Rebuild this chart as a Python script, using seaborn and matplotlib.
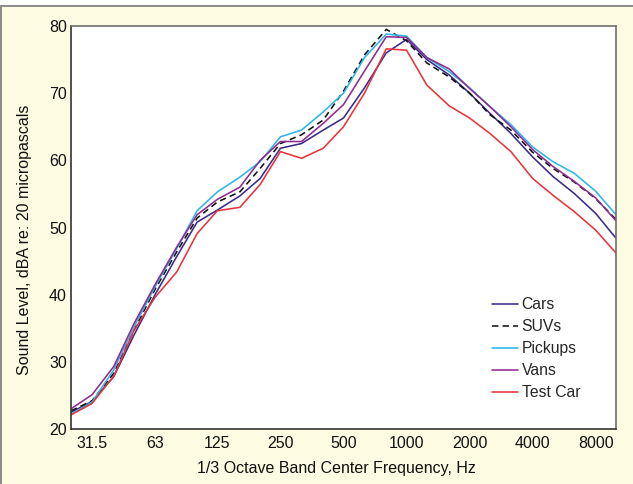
import matplotlib
matplotlib.use("Agg")
import matplotlib.pyplot as plt
import seaborn as sns
import pandas as pd
from matplotlib.patches import Rectangle
from matplotlib.lines import Line2D

# 1/3 octave band centre frequencies (Hz)
freqs = [25, 31.5, 40, 50, 63, 80, 100, 125, 160, 200, 250, 315, 400, 500,
         630, 800, 1000, 1250, 1600, 2000, 2500, 3150, 4000, 5000, 6300, 8000, 10000]

cars = [22.5, 24.1, 27.8, 34.0, 40.0, 45.7, 50.8, 52.6, 54.7, 57.3, 61.8, 62.5, 64.5, 66.3,
        70.8, 76.0, 78.0, 75.0, 72.7, 70.0, 67.0, 64.0, 60.5, 57.6, 55.1, 52.1, 48.4]
suvs = [22.7, 24.2, 28.3, 34.7, 40.8, 46.4, 51.4, 53.8, 55.3, 58.8, 62.5, 63.8, 66.0, 70.3,
        75.7, 79.5, 77.8, 74.5, 72.4, 70.0, 66.8, 64.5, 61.2, 58.8, 56.8, 54.3, 51.2]
pickups = [22.2, 24.0, 28.8, 35.2, 41.2, 46.9, 52.5, 55.3, 57.5, 59.8, 63.5, 64.5, 67.2, 70.0,
           75.3, 78.8, 78.5, 75.3, 73.2, 70.8, 68.0, 65.3, 62.0, 59.8, 58.1, 55.4, 51.9]
vans = [23.0, 25.1, 29.3, 35.7, 41.5, 47.1, 51.9, 54.2, 56.0, 60.0, 62.8, 62.8, 65.5, 68.3,
        73.3, 78.4, 78.3, 75.3, 73.6, 70.7, 68.0, 65.0, 61.6, 59.1, 56.9, 54.4, 51.0]
test_car = [22.1, 23.8, 27.9, 34.7, 39.6, 43.4, 49.1, 52.5, 53.0, 56.4, 61.3, 60.3, 61.8, 65.0,
            70.0, 76.6, 76.4, 71.2, 68.1, 66.3, 64.0, 61.3, 57.3, 54.8, 52.4, 49.6, 46.2]

series_names = ["Cars", "SUVs", "Pickups", "Vans", "Test Car"]
series_values = [cars, suvs, pickups, vans, test_car]
series_colors = ["#3B2A8A", "#111111", "#2DB6E8", "#8E2B8F", "#E8343A"]
series_styles = ["-", (0, (4, 2.6)), "-", "-", "-"]

x_ticks = [31.5, 63, 125, 250, 500, 1000, 2000, 4000, 8000]
x_tick_labels = ["31.5", "63", "125", "250", "500", "1000", "2000", "4000", "8000"]
y_ticks = [20, 30, 40, 50, 60, 70, 80]

df = pd.DataFrame({"freq": freqs})
for n, v in zip(series_names, series_values):
    df[n] = v

sns.set_theme(style="white")
plt.rcParams["font.family"] = ["Liberation Sans", "DejaVu Sans"]

bg = "#FDFBE2"
fig = plt.figure(figsize=(6.33, 4.84), dpi=100, facecolor="white")
fig.patches.append(Rectangle((1, -10), 700, 484 - 6 + 10, transform=None,
                             facecolor=bg, edgecolor="#8a8a8a", linewidth=1.4,
                             zorder=-10))
ax = fig.add_axes([71 / 633, 55 / 484, (616 - 71) / 633, (429 - 26) / 484])
ax.set_facecolor("white")

for n, c, ls in zip(series_names, series_colors, series_styles):
    sns.lineplot(data=df, x="freq", y=n, color=c, linestyle=ls, linewidth=1.15,
                 ax=ax, label=n, legend=False)

ax.set_xscale("log")
ax.set_xlim(25, 10000)
ax.set_ylim(20, 80)
ax.set_xticks(x_ticks)
ax.set_xticklabels(x_tick_labels)
ax.minorticks_off()
ax.set_yticks(y_ticks)
ax.tick_params(axis="both", direction="in", length=8, width=1.1, color="#333333",
               labelsize=11.5, labelcolor="#111111", pad=3)
ax.tick_params(axis="x", pad=5)

for side in ["left", "bottom"]:
    ax.spines[side].set_color("#333333")
    ax.spines[side].set_linewidth(1.2)
for side in ["top", "right"]:
    ax.spines[side].set_color("#6e6e6e")
    ax.spines[side].set_linewidth(1.2)

ax.set_xlabel("1/3 Octave Band Center Frequency, Hz", fontsize=11.5, color="#111111")
ax.set_ylabel("Sound Level, dBA re: 20 micropascals", fontsize=11.5, color="#111111")
ax.xaxis.set_label_coords(0.487, -0.097)
ax.yaxis.set_label_coords(-0.085, 0.469)
ax.xaxis.label.set_verticalalignment("center")
ax.yaxis.label.set_verticalalignment("center")

handles = [Line2D([], [], color=c, linestyle=ls, linewidth=1.15)
           for c, ls in zip(series_colors, series_styles)]
ax.legend(handles, series_names, loc="upper left", bbox_to_anchor=(0.772, 0.327),
          frameon=False, fontsize=11.3, handlelength=1.65, handletextpad=0.25,
          labelspacing=0.45, borderpad=0, borderaxespad=0)

fig.savefig("out.png", dpi=100, facecolor=fig.get_facecolor())
